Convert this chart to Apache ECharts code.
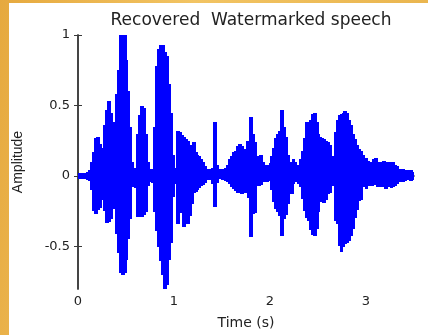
<!DOCTYPE html>
<html>
<head>
<meta charset="utf-8">
<script src="https://cdn.jsdelivr.net/npm/echarts@6/dist/echarts.min.js"></script>
<style>
    html, body { margin: 0; padding: 0; }
    body {
        width: 428px; height: 335px; position: relative; overflow: hidden;
        background: linear-gradient(100deg, #e6a93e 0%, #f2c463 40%, #e8b24a 100%);
    }
    #paper { position: absolute; left: 9px; top: 3px; right: 0; bottom: 0; background: #fff; }
    #chart { position: absolute; left: 0; top: 0; width: 428px; height: 335px; }
</style>
</head>
<body>
<div id="paper"></div>
<div id="chart"></div>
<script>
// 采样间隔 (s)，包络按此间隔读取
const timeStep = 0.02;

// 波形上包络
const upper = [
    0.02, 0.02, 0.02, 0.02, 0.02, 0.03, 0.04, 0.10, 0.17, 0.27,
    0.28, 0.23, 0.20, 0.12, 0.36, 0.47, 0.53, 0.45, 0.22, 0.38,
    0.58, 0.75, 1.00, 0.90, 1.00, 0.82, 0.60, 0.35, 0.10, 0.05,
    0.06, 0.30, 0.43, 0.50, 0.48, 0.30, 0.10, 0.05, 0.04, 0.05,
    0.35, 0.78, 0.90, 0.93, 0.93, 0.88, 0.85, 0.65, 0.45, 0.15,
    0.06, 0.05, 0.32, 0.31, 0.29, 0.28, 0.26, 0.25, 0.22, 0.20,
    0.24, 0.17, 0.15, 0.14, 0.12, 0.10, 0.07, 0.05, 0.05, 0.05,
    0.06, 0.38, 0.08, 0.05, 0.05, 0.05, 0.05, 0.06, 0.08, 0.12,
    0.14, 0.17, 0.18, 0.21, 0.23, 0.21, 0.17, 0.19, 0.25, 0.23,
    0.42, 0.30, 0.24, 0.12, 0.14, 0.15, 0.10, 0.08, 0.08, 0.08,
    0.09, 0.14, 0.20, 0.27, 0.30, 0.32, 0.47, 0.35, 0.28, 0.15,
    0.10, 0.10, 0.12, 0.10, 0.08, 0.06, 0.12, 0.18, 0.27, 0.38,
    0.36, 0.40, 0.44, 0.45, 0.38, 0.30, 0.28, 0.27, 0.26, 0.25,
    0.24, 0.22, 0.14, 0.08, 0.31, 0.40, 0.43, 0.44, 0.45, 0.46,
    0.45, 0.40, 0.36, 0.30, 0.26, 0.22, 0.19, 0.18, 0.15, 0.13,
    0.13, 0.11, 0.10, 0.09, 0.12, 0.13, 0.10, 0.09, 0.10, 0.11,
    0.10, 0.09, 0.10, 0.09, 0.10, 0.08, 0.07, 0.05, 0.05, 0.05,
    0.04, 0.04, 0.04, 0.04, 0.03
];

// 波形下包络
const lower = [
    -0.02, -0.02, -0.02, -0.02, -0.02, -0.03, -0.04, -0.10, -0.25, -0.27,
    -0.24, -0.22, -0.17, -0.10, -0.25, -0.33, -0.33, -0.30, -0.18, -0.24,
    -0.41, -0.55, -0.69, -0.70, -0.69, -0.60, -0.45, -0.30, -0.08, -0.05,
    -0.08, -0.29, -0.29, -0.29, -0.28, -0.25, -0.07, -0.04, -0.04, -0.05,
    -0.25, -0.39, -0.50, -0.60, -0.70, -0.80, -0.77, -0.60, -0.47, -0.15,
    -0.05, -0.05, -0.34, -0.25, -0.26, -0.36, -0.30, -0.34, -0.28, -0.20,
    -0.12, -0.11, -0.10, -0.09, -0.07, -0.06, -0.05, -0.03, -0.03, -0.03,
    -0.05, -0.22, -0.05, -0.02, -0.02, -0.03, -0.02, -0.03, -0.04, -0.06,
    -0.08, -0.09, -0.10, -0.12, -0.12, -0.13, -0.11, -0.12, -0.10, -0.15,
    -0.43, -0.27, -0.26, -0.07, -0.07, -0.06, -0.04, -0.04, -0.04, -0.03,
    -0.04, -0.10, -0.18, -0.23, -0.25, -0.28, -0.42, -0.30, -0.27, -0.20,
    -0.08, -0.13, -0.06, -0.04, -0.04, -0.05, -0.08, -0.16, -0.25, -0.30,
    -0.32, -0.38, -0.42, -0.42, -0.38, -0.25, -0.16, -0.18, -0.19, -0.17,
    -0.13, -0.12, -0.07, -0.05, -0.32, -0.34, -0.50, -0.54, -0.50, -0.48,
    -0.47, -0.46, -0.43, -0.37, -0.30, -0.24, -0.18, -0.17, -0.08, -0.07,
    -0.09, -0.07, -0.06, -0.07, -0.05, -0.06, -0.08, -0.07, -0.08, -0.06,
    -0.09, -0.08, -0.07, -0.09, -0.08, -0.07, -0.06, -0.04, -0.04, -0.04,
    -0.04, -0.03, -0.03, -0.04, -0.03
];

// 刻度
const xTicks = [0, 1, 2, 3];
const yTicks = [-0.5, 0, 0.5, 1];

// [时间, 上包络, 下包络]
const envelope = upper.map((v, i) => [i * timeStep, v, lower[i]]);

const textColor = '#222';
const fontFamily = 'DejaVu Sans';
const waveColor = '#0000ff';

// 每个采样点画一段从下包络到上包络的竖条，取整到像素避免缝隙
const renderEnvelope = (params, api) => {
    const t = api.value(0);
    const p1 = api.coord([t - timeStep / 2, api.value(1)]);
    const p2 = api.coord([t + timeStep / 2, api.value(2)]);
    const x0 = Math.floor(p1[0]);
    const x1 = Math.ceil(p2[0]);
    return {
        type: 'rect',
        shape: { x: x0, y: Math.round(p1[1]), width: x1 - x0 + 1, height: Math.max(Math.round(p2[1] - p1[1]), 1) },
        style: { fill: waveColor }
    };
};

const chart = echarts.init(document.getElementById('chart'), null, { renderer: 'canvas' });

chart.setOption({
    animation: false,
    backgroundColor: 'transparent',
    title: {
        text: 'Recovered  Watermarked speech',
        left: 246,
        top: 7,
        textAlign: 'center',
        textStyle: { color: textColor, fontSize: 17, fontWeight: 'normal', fontFamily }
    },
    grid: { left: 78, top: 35, width: 336, height: 261, containLabel: false },
    xAxis: [
        {
            type: 'value', min: 0, max: 3.5, position: 'bottom',
            axisLine: { lineStyle: { color: '#3a3a3a', width: 1.5 } },
            axisTick: { inside: true, length: 4, customValues: xTicks, lineStyle: { color: '#3a3a3a' } },
            axisLabel: { customValues: xTicks, color: textColor, fontSize: 13, fontFamily, margin: 6 },
            splitLine: { show: false },
            name: 'Time (s)', nameLocation: 'middle', nameGap: 27,
            nameTextStyle: { color: textColor, fontSize: 14, fontFamily }
        },
        {
            type: 'value', min: 0, max: 3.5, position: 'top',
            axisLine: { lineStyle: { color: '#777', width: 1.5 } },
            axisTick: { inside: true, length: 4, customValues: xTicks, lineStyle: { color: '#3a3a3a' } },
            axisLabel: { show: false },
            splitLine: { show: false }
        }
    ],
    yAxis: [
        {
            type: 'value', min: -0.8, max: 1, position: 'left',
            axisLine: { show: true, lineStyle: { color: '#3a3a3a', width: 1.5 } },
            axisTick: { show: true, inside: true, length: 4, customValues: yTicks, lineStyle: { color: '#3a3a3a' } },
            axisLabel: { customValues: yTicks, color: textColor, fontSize: 13, fontFamily, margin: 8 },
            splitLine: { show: false },
            name: 'Amplitude', nameLocation: 'middle', nameRotate: 90, nameGap: 53,
            nameTextStyle: { color: textColor, fontSize: 14, fontFamily: 'Liberation Sans' }
        },
        {
            type: 'value', min: -0.8, max: 1, position: 'right',
            axisLine: { show: true, lineStyle: { color: '#3a3a3a', width: 1.5 } },
            axisTick: { show: true, inside: true, length: 4, customValues: yTicks, lineStyle: { color: '#3a3a3a' } },
            axisLabel: { show: false },
            splitLine: { show: false }
        }
    ],
    series: [
        {
            name: 'speech',
            type: 'custom',
            renderItem: renderEnvelope,
            data: envelope,
            encode: { x: 0, y: [1, 2] },
            clip: true
        }
    ]
});
</script>
</body>
</html>
